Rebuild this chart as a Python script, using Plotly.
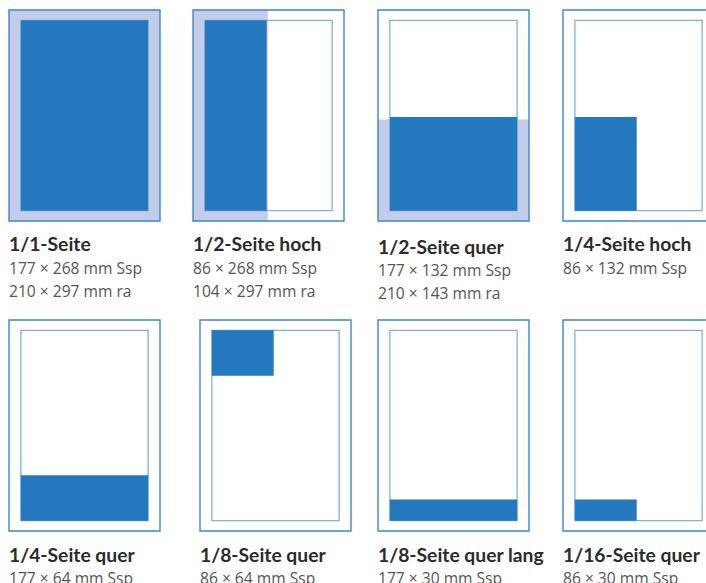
import plotly.graph_objects as go

# ---------------- data (ad sizes in mm) ----------------
titles = ["1/1-Seite", "1/2-Seite hoch", "1/2-Seite quer", "1/4-Seite hoch",
          "1/4-Seite quer", "1/8-Seite quer", "1/8-Seite quer lang", "1/16-Seite quer"]
ssp_w = [177, 86, 177, 86, 177, 86, 177, 86]      # Satzspiegel width
ssp_h = [268, 268, 132, 132, 64, 64, 30, 30]       # Satzspiegel height
ra_w = [210, 104, 210, None, None, None, None, None]  # Randabfallend width
ra_h = [297, 297, 143, None, None, None, None, None]  # Randabfallend height
placement = ["full", "left", "bottom", "bottom-left",
             "bottom", "top-left", "bottom", "bottom-left"]

PAGE_W, PAGE_H = 210, 297
TYPE_W, TYPE_H = 177, 268

# ---------------- layout constants (pixels) ----------------
W, H = 706, 583
PANEL_LEFT = [9, 193, 378, 563, 9, 200, 378, 563]
PANEL_TOP = [10, 10, 10, 10, 320, 320, 320, 320]
PANEL_W, PANEL_H = 151, 211
PAD = 3
TEXT_NUDGE = [0, 0, 2, 0, 0, 0, 0, 0]
TEXT_DX = -2

DARK = "#2378be"
LIGHT = "#c3cde9"
OUTER = "#3d87cc"
INNER = "#80b1e0"
TITLE_C = "#2b2b2b"
SUB_C = "#555555"
TITLE_FONT = "Lato, sans-serif"
SUB_FONT = "Open Sans, sans-serif"

fig = go.Figure()
shapes = []
annotations = []
layout_axes = {}

tx0 = (PAGE_W - TYPE_W) / 2
ty0 = (PAGE_H - TYPE_H) / 2
tx1, ty1 = tx0 + TYPE_W, ty0 + TYPE_H

for i in range(len(titles)):
    n = i + 1
    xa = "x" if n == 1 else f"x{n}"
    ya = "y" if n == 1 else f"y{n}"
    sx = PANEL_W / PAGE_W
    sy = PANEL_H / PAGE_H
    left_px = PANEL_LEFT[i] - PAD
    right_px = min(PANEL_LEFT[i] + PANEL_W + PAD, W)
    top_px = PANEL_TOP[i] - PAD
    bot_px = PANEL_TOP[i] + PANEL_H + PAD
    layout_axes["xaxis" if n == 1 else f"xaxis{n}"] = dict(
        domain=[left_px / W, right_px / W],
        range=[(left_px - PANEL_LEFT[i]) / sx, (right_px - PANEL_LEFT[i]) / sx],
        visible=False, fixedrange=True, anchor=ya)
    layout_axes["yaxis" if n == 1 else f"yaxis{n}"] = dict(
        domain=[1 - bot_px / H, 1 - top_px / H],
        range=[(bot_px - PANEL_TOP[i]) / sy, (top_px - PANEL_TOP[i]) / sy],
        visible=False, fixedrange=True, anchor=xa)
    fig.add_trace(go.Scatter(x=[], y=[], xaxis=xa, yaxis=ya, showlegend=False))

    top_aligned = placement[i] in ("full", "left", "top-left")
    # bleed (randabfallend)
    if ra_w[i] is not None:
        by0 = 0 if top_aligned else PAGE_H - ra_h[i]
        shapes.append(dict(type="rect", xref=xa, yref=ya, x0=0, x1=ra_w[i],
                           y0=by0, y1=by0 + ra_h[i], fillcolor=LIGHT,
                           line=dict(width=0), layer="above"))
    # type area outline
    shapes.append(dict(type="rect", xref=xa, yref=ya, x0=tx0, x1=tx1, y0=ty0, y1=ty1,
                       line=dict(color=INNER, width=1.3), fillcolor="rgba(0,0,0,0)"))
    # ad area (satzspiegel)
    ay0 = ty0 if top_aligned else ty1 - ssp_h[i]
    shapes.append(dict(type="rect", xref=xa, yref=ya, x0=tx0, x1=tx0 + ssp_w[i],
                       y0=ay0, y1=ay0 + ssp_h[i], fillcolor=DARK, line=dict(width=0)))
    # page outline
    shapes.append(dict(type="rect", xref=xa, yref=ya, x0=0, x1=PAGE_W, y0=0, y1=PAGE_H,
                       line=dict(color=OUTER, width=1.4), fillcolor="rgba(0,0,0,0)"))

    # texts
    base = PANEL_TOP[i] + PANEL_H + TEXT_NUDGE[i]
    lines = [(f"<b>{titles[i]}</b>", 19.3, TITLE_C, TITLE_FONT, base + 23)]
    lines.append((f"{ssp_w[i]} × {ssp_h[i]} mm Ssp", 15.6, SUB_C, SUB_FONT, base + 47))
    if ra_w[i] is not None:
        lines.append((f"{ra_w[i]} × {ra_h[i]} mm ra", 15.6, SUB_C, SUB_FONT, base + 70))
    for txt, size, col, fam, ypx in lines:
        annotations.append(dict(text=txt, x=(PANEL_LEFT[i] + TEXT_DX) / W, y=1 - ypx / H,
                                xref="paper", yref="paper", xanchor="left",
                                yanchor="middle", showarrow=False,
                                font=dict(family=fam, size=size, color=col)))

fig.update_layout(width=W, height=H, margin=dict(l=0, r=0, t=0, b=0),
                  paper_bgcolor="white", plot_bgcolor="white",
                  shapes=shapes, annotations=annotations, showlegend=False,
                  **layout_axes)
fig.write_html("out.html", config={"displayModeBar": False},
               post_script="document.body.style.margin='0';document.body.style.overflow='hidden';")
